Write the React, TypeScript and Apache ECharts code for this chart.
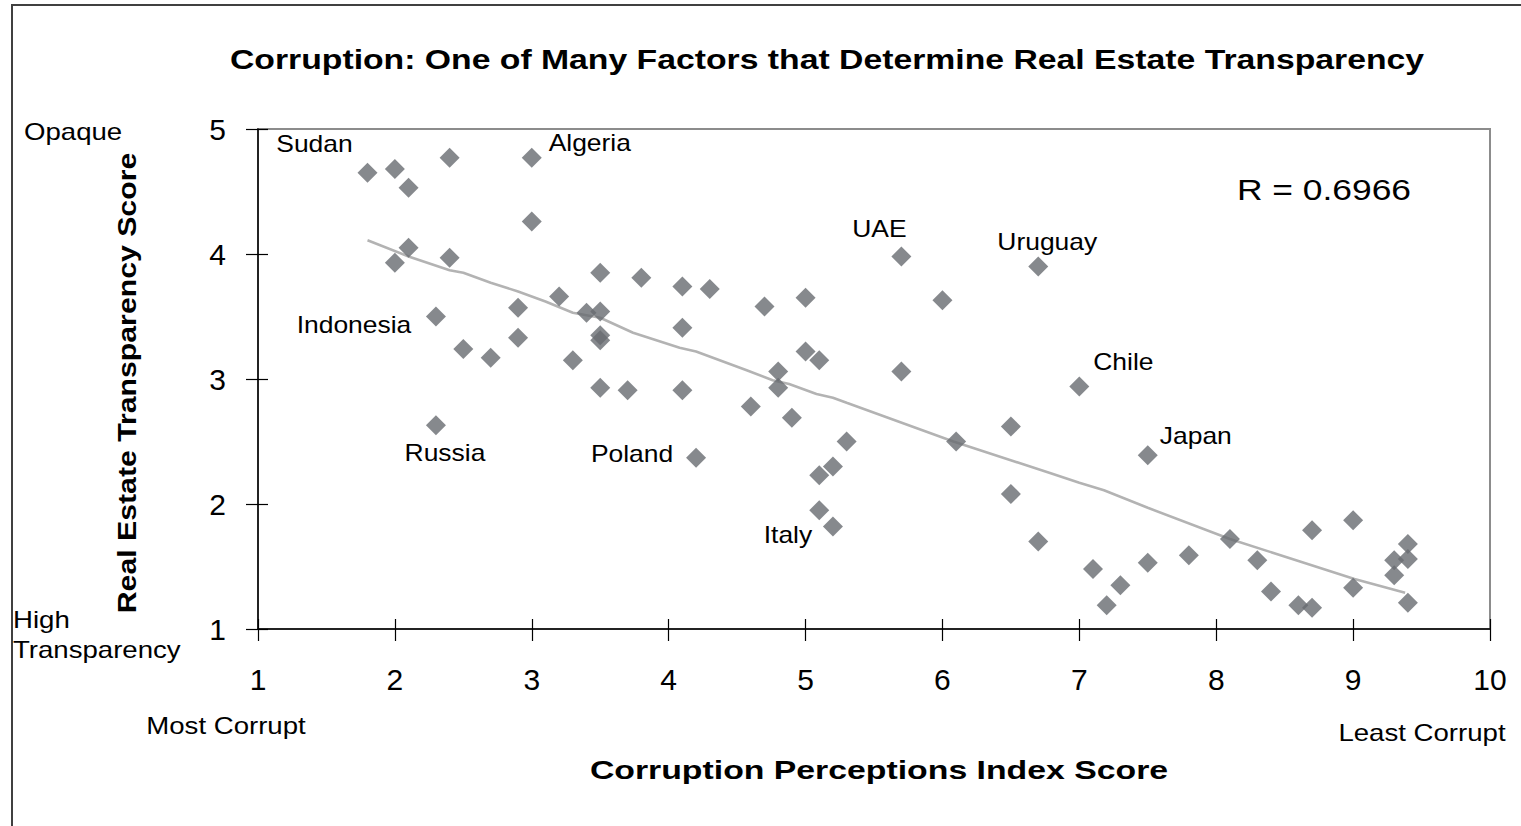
import React, { useEffect, useRef } from 'react';
import * as echarts from 'echarts';

// Corruption Perceptions Index score (x) and Real Estate Transparency score (y)
const cpiScores = [
  1.8, 2.0, 2.1, 2.4, 3.0, 3.0, 2.1, 2.0, 2.4, 3.5,
  3.8, 3.2, 2.9, 3.4, 3.5, 2.3, 2.9, 2.5, 2.7, 3.5,
  3.5, 3.3, 3.5, 3.7, 2.3, 4.1, 4.3, 4.7, 5.0, 5.7,
  6.0, 4.1, 5.0, 5.1, 4.8, 5.7, 4.8, 4.1, 4.6, 4.9,
  5.3, 6.1, 6.5, 4.2, 5.2, 5.1, 6.5, 5.1, 5.2, 6.7,
  6.7, 7.0, 7.5, 7.1, 7.3, 7.2, 7.5, 7.8, 8.1, 8.3,
  8.4, 8.6, 8.7, 8.7, 9.0, 9.0, 9.3, 9.3, 9.4, 9.4,
  9.4,
];
const transparencyScores = [
  4.65, 4.68, 4.53, 4.77, 4.77, 4.26, 4.05, 3.93, 3.97, 3.85,
  3.81, 3.66, 3.57, 3.53, 3.54, 3.50, 3.33, 3.24, 3.17, 3.35,
  3.31, 3.15, 2.93, 2.91, 2.63, 3.74, 3.72, 3.58, 3.65, 3.98,
  3.63, 3.41, 3.22, 3.15, 3.06, 3.06, 2.93, 2.91, 2.78, 2.69,
  2.50, 2.50, 2.62, 2.37, 2.30, 2.23, 2.08, 1.95, 1.82, 1.70,
  3.90, 2.94, 2.39, 1.48, 1.35, 1.19, 1.53, 1.59, 1.72, 1.55,
  1.30, 1.19, 1.17, 1.79, 1.87, 1.33, 1.55, 1.43, 1.68, 1.56,
  1.21,
];
const countryNames = [
  'Sudan', '', '', '', 'Algeria', '', '', '', '', '',
  '', '', '', '', '', 'Indonesia', '', '', '', '',
  '', '', '', '', 'Russia', '', '', '', '', 'UAE',
  '', '', '', '', '', '', '', '', '', '',
  '', '', '', 'Poland', '', '', '', '', 'Italy', '',
  'Uruguay', 'Chile', 'Japan', '', '', '', '', '', '', '',
  '', '', '', '', '', '', '', '', '', '',
  '',
];

// Trend line
const trendCpi = [1.8, 2.1, 2.4, 2.5, 2.7, 2.9, 3.1, 3.3, 3.5, 3.74, 4.08, 4.2, 4.57, 4.76, 4.88, 5.08, 5.2, 5.3, 6.08, 6.78, 7.0, 7.18, 7.5, 8.1, 9.01, 9.38];
const trendScore = [4.11, 3.98, 3.87, 3.85, 3.77, 3.7, 3.62, 3.53, 3.49, 3.37, 3.25, 3.22, 3.07, 2.99, 2.96, 2.88, 2.85, 2.81, 2.5, 2.25, 2.17, 2.11, 1.97, 1.72, 1.4, 1.29];

const xMin = 1, xMax = 10, xStep = 1;
const yMin = 1, yMax = 5, yStep = 1;

const titleText = 'Corruption: One of Many Factors that Determine Real Estate Transparency';
const xTitle = 'Corruption Perceptions Index Score';
const yTitle = 'Real Estate Transparency Score';
const rText = 'R = 0.6966';

const labelOffsets: Record<string, [number, number]> = {
  Sudan: [-53, -29],
  Algeria: [58, -15],
  UAE: [-22, -27],
  Uruguay: [9, -24],
  Indonesia: [-82, 9],
  Chile: [44, -24],
  Japan: [48, -19],
  Russia: [9, 28],
  Poland: [-64, -4],
  Italy: [-45, 9],
};

const FONT = "'Liberation Sans', Arial, sans-serif";

function txt(id: string, text: string, x: number, y: number, font: string, sx: number, align = 'center', extra: any = {}) {
  return {
    type: 'text', id, x, y, scaleX: sx, silent: true,
    style: { text, fill: '#000', font, align, verticalAlign: 'middle' },
    ...extra,
  };
}

export default function App() {
  const ref = useRef<HTMLDivElement>(null);
  useEffect(() => {
    if (!ref.current) return;
    const chart = echarts.init(ref.current, null, { renderer: 'svg' });

    const points = cpiScores.map((x, i) => ({ value: [x, transparencyScores[i]], name: countryNames[i] }));

    const axisBase = {
      type: 'value' as const,
      splitLine: { show: false },
    };

    const staticGraphic: any[] = [
      {
        type: 'rect', id: 'frame',
        shape: { x: 12, y: 5, width: 1560, height: 900 },
        style: { fill: 'none', stroke: '#404040', lineWidth: 2 },
        silent: true,
      },
      txt('title', titleText, 827, 59, `bold 27px ${FONT}`, 1.25),
      txt('xtitle', xTitle, 879, 770, `bold 26px ${FONT}`, 1.3),
      {
        type: 'text', id: 'ytitle', x: 127, y: 383, rotation: Math.PI / 2, scaleX: 1.21, silent: true,
        style: { text: yTitle, fill: '#000', font: `bold 25px ${FONT}`, align: 'center', verticalAlign: 'middle' },
      },
      txt('r', rText, 1324, 189, `30px ${FONT}`, 1.18),
      txt('opaque', 'Opaque', 24, 132, `23px ${FONT}`, 1.2, 'left'),
      txt('high', 'High', 13, 620, `23px ${FONT}`, 1.2, 'left'),
      txt('transp', 'Transparency', 13, 650, `23px ${FONT}`, 1.2, 'left'),
      txt('most', 'Most Corrupt', 226, 726, `23px ${FONT}`, 1.2),
      txt('least', 'Least Corrupt', 1422, 733, `23px ${FONT}`, 1.2),
    ];

    chart.setOption({
      animation: false,
      backgroundColor: '#fff',
      grid: {
        left: 258, top: 129, right: 31, bottom: 197,
        show: true, borderColor: '#8c8c8c', borderWidth: 2, backgroundColor: 'transparent',
      },
      xAxis: [
        {
          ...axisBase,
          min: xMin, max: xMax, interval: xStep,
          position: 'bottom',
          axisLine: { show: true, lineStyle: { color: '#000', width: 1.5 } },
          axisTick: { show: true, inside: false, length: 12, lineStyle: { color: '#000', width: 1.2 } },
          axisLabel: { color: '#000', fontSize: 30, fontFamily: FONT, margin: 35 },
        },
        {
          ...axisBase,
          min: xMin, max: xMax, interval: xStep,
          position: 'bottom',
          axisLine: { show: false },
          axisTick: { show: true, inside: true, length: 10, lineStyle: { color: '#000', width: 1.2 } },
          axisLabel: { show: false },
        },
      ],
      yAxis: [
        {
          ...axisBase,
          min: yMin, max: yMax, interval: yStep,
          position: 'left',
          axisLine: { show: true, lineStyle: { color: '#000', width: 1.5 } },
          axisTick: { show: true, inside: false, length: 12, lineStyle: { color: '#000', width: 1.2 } },
          axisLabel: { color: '#000', fontSize: 30, fontFamily: FONT, margin: 32 },
        },
        {
          ...axisBase,
          min: yMin, max: yMax, interval: yStep,
          position: 'left',
          axisLine: { show: false },
          axisTick: { show: true, inside: true, length: 10, lineStyle: { color: '#000', width: 1.2 } },
          axisLabel: { show: false },
        },
      ],
      series: [
        {
          type: 'line',
          data: trendCpi.map((x, i) => [x, trendScore[i]]),
          showSymbol: false,
          symbol: 'none',
          lineStyle: { color: '#b3b3b3', width: 2.5 },
          z: 1,
          silent: true,
        },
        {
          type: 'scatter',
          data: points,
          symbol: 'diamond',
          symbolSize: 20,
          itemStyle: { color: '#686b70' },
          z: 2,
        },
      ],
      graphic: staticGraphic,
    });

    // Country labels placed at the pixel positions the axes give for each labelled point
    const labelGraphic: any[] = [];
    cpiScores.forEach((x, i) => {
      const name = countryNames[i];
      if (!name) return;
      const px = chart.convertToPixel({ xAxisIndex: 0, yAxisIndex: 0 }, [x, transparencyScores[i]]) as number[];
      const off = labelOffsets[name] || [0, 0];
      labelGraphic.push(txt('lbl-' + name, name, px[0] + off[0], px[1] + off[1], `23px ${FONT}`, 1.15));
    });
    chart.setOption({ graphic: [...staticGraphic, ...labelGraphic] });

    return () => chart.dispose();
  }, []);
  return <div ref={ref} style={{ position: 'fixed', left: 0, top: 0, width: 1521, height: 826 }} />;
}
